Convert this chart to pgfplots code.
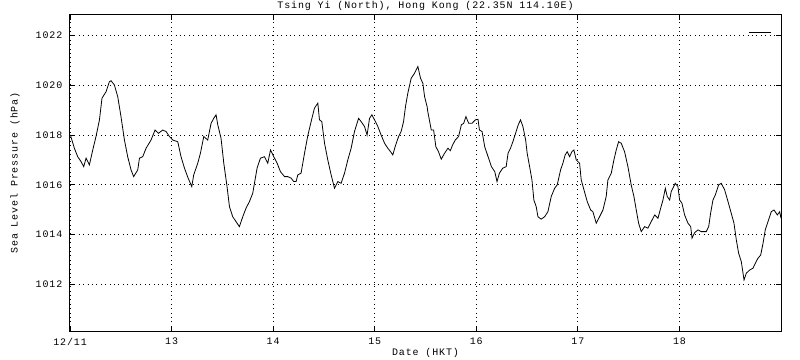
\documentclass[border=0pt]{standalone}
\usepackage{pgfplots}
\pgfplotsset{compat=1.18}
\usepackage{pgfplotstable}
\usepackage{fontspec}
\setmainfont{Liberation Mono}[LetterSpace=9]
\pgfplotstableread{
d p
12.004 1018.00
12.043 1017.47
12.076 1017.13
12.109 1016.93
12.135 1016.73
12.158 1017.07
12.191 1016.80
12.224 1017.40
12.256 1017.94
12.290 1018.61
12.315 1019.48
12.355 1019.74
12.388 1020.14
12.404 1020.18
12.437 1020.01
12.470 1019.54
12.502 1018.74
12.536 1017.80
12.568 1017.13
12.601 1016.60
12.627 1016.33
12.667 1016.60
12.684 1017.07
12.716 1017.13
12.749 1017.47
12.798 1017.80
12.837 1018.20
12.871 1018.07
12.913 1018.20
12.946 1018.14
12.979 1017.94
13.012 1017.80
13.061 1017.73
13.093 1017.13
13.127 1016.67
13.162 1016.28
13.199 1015.93
13.218 1016.40
13.258 1016.87
13.284 1017.27
13.317 1017.94
13.356 1017.80
13.389 1018.47
13.415 1018.67
13.438 1018.81
13.455 1018.41
13.487 1017.87
13.514 1016.87
13.546 1015.93
13.570 1015.12
13.602 1014.72
13.635 1014.52
13.668 1014.32
13.701 1014.72
13.733 1015.06
13.767 1015.33
13.799 1015.66
13.816 1016.06
13.842 1016.67
13.875 1017.07
13.915 1017.13
13.947 1016.87
13.974 1017.40
14.006 1017.13
14.039 1016.87
14.072 1016.53
14.112 1016.33
14.144 1016.33
14.177 1016.27
14.203 1016.13
14.226 1016.13
14.243 1016.40
14.275 1016.47
14.309 1017.27
14.341 1017.97
14.374 1018.54
14.407 1019.08
14.440 1019.28
14.456 1018.61
14.479 1018.54
14.506 1017.67
14.538 1017.00
14.571 1016.40
14.604 1015.86
14.637 1016.13
14.669 1016.06
14.703 1016.47
14.735 1017.00
14.768 1017.47
14.801 1018.14
14.841 1018.67
14.866 1018.54
14.900 1018.34
14.925 1018.00
14.949 1018.67
14.972 1018.81
14.998 1018.61
15.031 1018.34
15.063 1018.00
15.097 1017.67
15.129 1017.47
15.156 1017.33
15.178 1017.20
15.201 1017.53
15.235 1017.94
15.260 1018.14
15.284 1018.54
15.303 1019.14
15.326 1019.68
15.359 1020.28
15.392 1020.48
15.425 1020.75
15.451 1020.28
15.474 1020.08
15.491 1019.54
15.516 1019.14
15.523 1018.93
15.557 1018.20
15.580 1018.20
15.602 1017.53
15.628 1017.33
15.655 1017.03
15.688 1017.27
15.721 1017.47
15.744 1017.37
15.767 1017.60
15.793 1017.80
15.826 1017.94
15.853 1018.41
15.876 1018.47
15.898 1018.74
15.925 1018.47
15.958 1018.47
15.991 1018.61
16.017 1018.63
16.031 1018.20
16.057 1018.14
16.083 1017.53
16.116 1017.13
16.149 1016.73
16.182 1016.53
16.204 1016.13
16.228 1016.47
16.261 1016.67
16.294 1016.73
16.313 1017.27
16.337 1017.47
16.360 1017.73
16.387 1018.07
16.413 1018.41
16.436 1018.61
16.459 1018.34
16.486 1017.80
16.501 1017.27
16.525 1016.73
16.548 1016.20
16.567 1015.39
16.590 1015.12
16.607 1014.72
16.639 1014.62
16.673 1014.72
16.705 1014.92
16.738 1015.53
16.771 1015.86
16.797 1016.00
16.830 1016.60
16.853 1016.87
16.875 1017.20
16.895 1017.33
16.919 1017.13
16.941 1017.33
16.961 1017.40
16.984 1017.00
17.017 1016.87
17.033 1016.20
17.060 1015.80
17.092 1015.33
17.126 1014.99
17.148 1014.92
17.181 1014.46
17.214 1014.72
17.247 1014.99
17.279 1015.53
17.296 1016.20
17.329 1016.47
17.355 1017.00
17.378 1017.40
17.401 1017.73
17.427 1017.67
17.460 1017.33
17.493 1016.73
17.525 1016.00
17.552 1015.53
17.575 1014.99
17.598 1014.46
17.624 1014.12
17.657 1014.32
17.690 1014.26
17.722 1014.52
17.756 1014.79
17.789 1014.66
17.815 1015.06
17.838 1015.39
17.861 1015.86
17.880 1015.53
17.904 1015.39
17.919 1015.73
17.959 1016.06
17.985 1015.93
18.002 1015.39
18.025 1015.26
18.051 1014.79
18.084 1014.46
18.111 1014.32
18.124 1013.86
18.150 1014.08
18.183 1014.19
18.215 1014.12
18.264 1014.12
18.288 1014.32
18.307 1014.86
18.330 1015.39
18.353 1015.59
18.386 1016.00
18.412 1016.06
18.445 1015.80
18.478 1015.33
18.510 1014.86
18.537 1014.46
18.560 1013.79
18.583 1013.25
18.609 1012.92
18.636 1012.18
18.658 1012.45
18.692 1012.58
18.724 1012.65
18.747 1012.85
18.773 1013.05
18.800 1013.18
18.823 1013.65
18.845 1014.19
18.872 1014.52
18.904 1014.92
18.931 1014.99
18.964 1014.79
18.987 1014.92
19.000 1014.66
}\slp
\begin{document}
\begin{tikzpicture}
\path[use as bounding box] (-70bp,-29bp) rectangle (730bp,331bp);
\begin{axis}[
  at={(0,0)}, anchor=south west,
  scale only axis, width=711bp, height=316bp,
  xmin=12, xmax=19, ymin=1010.13, ymax=1022.82,
  xtick={12,13,14,15,16,17,18},
  xticklabels={12/11,13,14,15,16,17,18},
  ytick={1012,1014,1016,1018,1020,1022},
  /pgf/number format/assume math mode=true,
  /pgf/number format/1000 sep={},
  tick align=inside, xtick pos=both, ytick pos=both,
  xticklabel pos=lower, yticklabel pos=left,
  major tick length=5bp,
  tick style={black, line width=0.8bp},
  axis line style={black, line width=1bp},
  grid=major,
  major grid style={black, line width=0.8bp, dash pattern=on 0.8bp off 3.6bp},
  yticklabel style={anchor=east, inner sep=0pt, xshift=-7.5bp},
  xticklabel style={anchor=north, inner sep=0pt, yshift=-7bp},
  title={Tsing Yi (North), Hong Kong (22.35N 114.10E)},
  title style={at={(axis description cs:0.5,1)}, anchor=center, yshift=3bp, inner sep=0pt},
  xlabel={Date (HKT)},
  xlabel style={at={(axis description cs:0.5,0)}, anchor=center, yshift=-22bp, inner sep=0pt},
  ylabel={Sea Level Pressure (hPa)},
  ylabel style={at={(axis description cs:0,0.5)}, anchor=center, yshift=55bp, inner sep=0pt},
  legend style={at={(axis description cs:0.9536,0.945)}, anchor=west, draw=none, fill=none, inner sep=0pt, nodes={inner sep=0pt}},
  legend image code/.code={\draw[#1] (0bp,0bp) -- (22bp,0bp);},
]
\addplot[black, line width=0.8bp] table[x=d, y=p] {\slp};
\addlegendentry{}
\end{axis}
\end{tikzpicture}
\end{document}
